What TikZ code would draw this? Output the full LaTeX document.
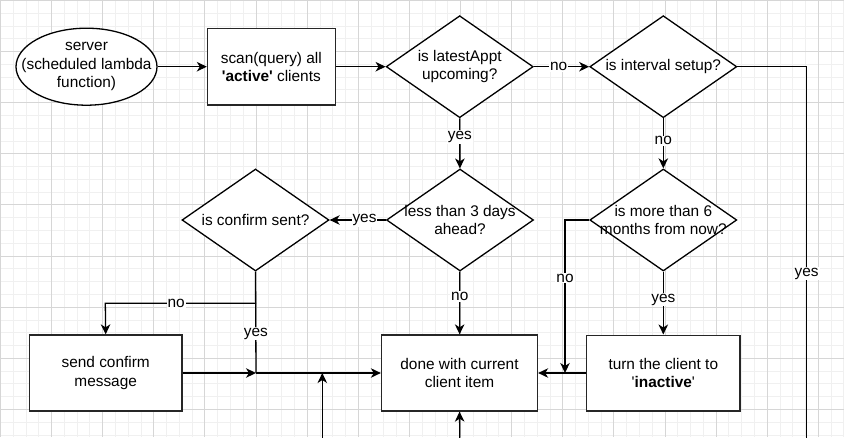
\documentclass[tikz,border=0pt]{standalone}
\usepackage{fontspec}
\setmainfont{Liberation Sans}
\usetikzlibrary{arrows.meta,shapes.geometric}
\newcommand\fs{\fontsize{15.4pt}{18.3pt}\selectfont}
\newcommand\sq{\textquotesingle}
\definecolor{gminor}{HTML}{F0F0F0}
\definecolor{gmajor}{HTML}{D6D6D6}
\tikzset{
  box/.style={draw=black!85, line width=1.3pt, fill=white, align=center, font=\fs, inner sep=2pt},
  dia/.style={draw=black, line width=1.3pt, fill=white, shape=diamond, minimum width=147pt, minimum height=102pt, inner sep=0pt},
  ell/.style={draw=black, line width=1.3pt, fill=white, shape=ellipse, minimum width=141pt, minimum height=77pt, inner sep=0pt},
  dtext/.style={font=\fs, align=center},
  lbl/.style={fill=white, inner sep=1pt, font=\fs},
  arr/.style={line width=1.3pt, -{Stealth[length=10pt, width=9.5pt, inset=3pt]}},
  ln/.style={line width=1.3pt},
  gminorln/.style={draw=gminor, line width=1pt},
  gmajorln/.style={draw=gmajor, line width=1pt}
}
\begin{document}
\begin{tikzpicture}[x=1pt,y=-1pt]
\useasboundingbox (0,0) rectangle (844,437);
\clip (0,0) rectangle (844,437);
\fill[white] (0,0) rectangle (844,437);
% grid
\foreach \i in {0,...,66} \draw[gminorln] ({\i*12.78+0.5},0) -- ({\i*12.78+0.5},437);
\foreach \j in {0,...,34} \draw[gminorln] (0,{\j*12.78+0.5}) -- (844,{\j*12.78+0.5});
\foreach \i in {0,...,16} \draw[gmajorln] ({\i*51.12+0.5},0) -- ({\i*51.12+0.5},437);
\foreach \j in {0,...,8} \draw[gmajorln] (0,{\j*51.12+0.5}) -- (844,{\j*51.12+0.5});

% nodes
\node[ell, label={[dtext]center:{server\\(scheduled lambda\\function)}}] (srv) at (86.5,66.7) {};
\node[box, minimum width=127.7pt, minimum height=76.7pt] (scan) at (271.3,66.7) {scan(query) all\\\textbf{\sq active\sq} clients};
\node[dia, label={[dtext]center:{is latestAppt\\upcoming?}}] (d1) at (459.7,66.7) {};
\node[dia, label={[dtext]center:{is interval setup?}}] (d2) at (663.3,66.7) {};
\node[dia, label={[dtext]center:{less than 3 days\\ahead?}}] (d3) at (460,220) {};
\node[dia, label={[dtext]center:{is more than 6\\months from now?}}] (d4) at (663.3,220) {};
\node[dia, label={[dtext]center:{is confirm sent?}}] (d5) at (255.5,220) {};
\node[box, minimum width=152.7pt, minimum height=76pt] (send) at (105.7,373) {send confirm\\message};
\node[box, minimum width=156pt, minimum height=76pt] (done) at (459.5,373) {done with current\\client item};
\node[box, minimum width=153.3pt, minimum height=75.7pt] (inact) at (663.3,373) {turn the client to\\\sq\textbf{inactive}\sq};

% helper points
\coordinate (j1) at (256,373);
\coordinate (j2) at (322.3,373);
\coordinate (b1) at (322.3,450);
\coordinate (b2) at (460,450);
\coordinate (r1) at (806.7,66.7);
\coordinate (r2) at (806.7,450);
\coordinate (n1) at (256,303.3);
\coordinate (n2) at (105.3,303.3);
\coordinate (m1) at (565,220);
\coordinate (m2) at (565,373);

% connectors
\draw[arr] (srv) -- (scan);
\draw[arr] (scan) -- (d1);
\draw[arr] (d1) -- node[lbl, pos=0.45]{no} (d2);
\draw[arr] (d1) -- node[lbl, pos=0.37]{yes} (d3);
\draw[arr] (d2) -- node[lbl, pos=0.45]{no} (d4);
\draw[arr] (d3) -- node[lbl, pos=0.38]{yes} (d5);
\draw[arr] (d3) -- node[lbl, pos=0.40]{no} (done);
\draw[arr] (d4) -- node[lbl, pos=0.445]{yes} (inact);
\draw[arr] (d4.west) -- (m1) -- node[lbl, pos=0.38]{no} (m2);
\draw[arr] (inact) -- (done);
\draw[ln] (d5.south) -- node[lbl, pos=0.61]{yes} (j1);
\draw[arr] (n1) -- node[lbl, pos=0.53]{no} (n2) -- (send.north);
\draw[arr] (send) -- (j1);
\draw[arr] (j1) -- (done);
\draw[arr] (b1) -- (j2);
\draw[arr] (b2) -- (done.south);
\draw[ln] (d2.east) -- (r1) -- node[lbl, pos=0.54]{yes} (r2);
\end{tikzpicture}
\end{document}
